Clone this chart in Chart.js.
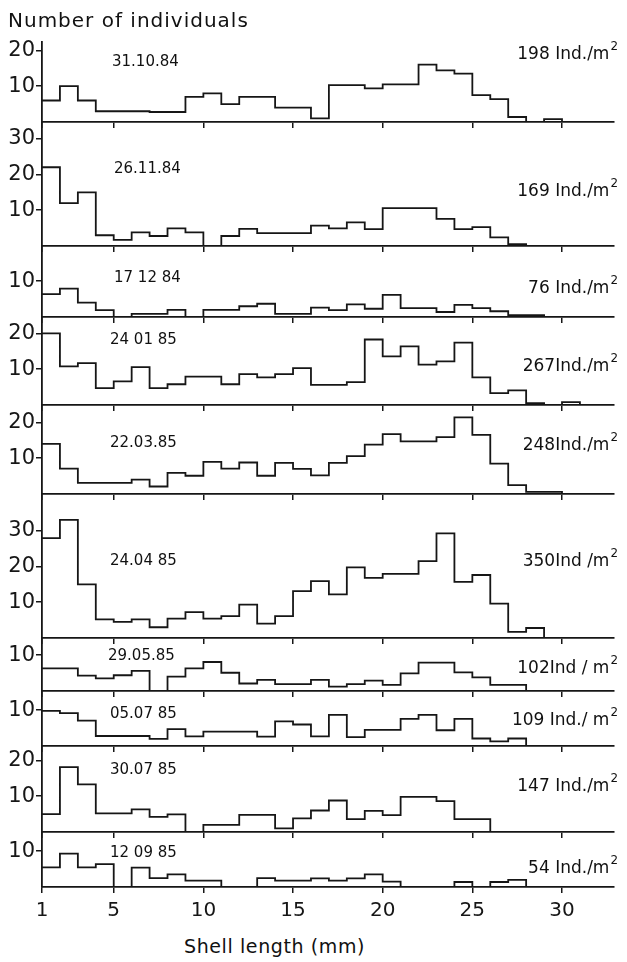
<!DOCTYPE html>
<html>
<head>
<meta charset="utf-8">
<script src="https://cdn.jsdelivr.net/npm/chart.js@4.4.1/dist/chart.umd.min.js"></script>
<style>
  body { margin: 0; background: #fff; }
  #wrap { position: relative; width: 627px; height: 962px; overflow: hidden; font-family: "DejaVu Sans", sans-serif; color: #111; }
  canvas { position: absolute; left: 0; }
  .lbl { position: absolute; white-space: nowrap; line-height: 1; transform: translateY(-50%); }
  .lbl sup { font-size: 0.7em; position: relative; top: -0.35em; vertical-align: top; margin-left: 1px; }
</style>
</head>
<body>
<div id="wrap"></div>
<script>
// bin lower edges, shell length in mm (1 mm classes)
const binEdges = [1, 2, 3, 4, 5, 6, 7, 8, 9, 10, 11, 12, 13, 14, 15, 16, 17, 18, 19, 20, 21, 22, 23, 24, 25, 26, 27, 28, 29, 30, 31, 32, 33];

// number of individuals per 1 mm class, one array per sampling date
const oct84 = [6, 10, 6, 3, 3, 3, 2.8, 2.8, 7, 8, 5, 7, 7, 4, 4, 1, 10.3, 10.3, 9.4, 10.5, 10.5, 16, 14.4, 13.5, 7.5, 6.4, 1.4, 0, 0.8, 0, 0, 0];
const nov84 = [22, 12, 15, 3, 1.7, 3.8, 2.8, 4.9, 3.8, 0, 2.8, 4.8, 3.6, 3.6, 3.6, 5.7, 4.9, 6.6, 4.7, 10.6, 10.6, 10.6, 7.6, 4.7, 5.3, 2.4, 0.5, 0, 0, 0, 0, 0];
const dec84 = [6.4, 7.9, 4, 1.9, 0, 0.9, 0.9, 2, 0, 2, 2, 3, 3.7, 0.9, 0.9, 2.6, 1.9, 3.5, 2.3, 6.2, 2.5, 2.5, 1.4, 3.4, 2.5, 1.6, 0.5, 0.5, 0, 0, 0, 0];
const jan85 = [20, 10.8, 11.7, 4.7, 6.6, 10.6, 4.7, 5.8, 7.9, 7.9, 5.8, 8.6, 7.7, 8.6, 10.3, 5.6, 5.6, 6.4, 18.3, 13.6, 16.4, 11.3, 12.2, 17.4, 7.7, 3.3, 4.1, 0.5, 0, 0.8, 0, 0];
const mar85 = [14, 7.1, 3.1, 3.1, 3.1, 4, 2.1, 5.9, 5.1, 9, 7.1, 8.8, 5.1, 8.7, 7, 5.2, 8.7, 10.6, 13.8, 16.7, 14.7, 14.7, 15.9, 21.4, 16.5, 8.5, 2.5, 0.6, 0.6, 0, 0, 0];
const apr85 = [27.9, 33, 15, 5.2, 4.5, 5.2, 3, 5.4, 7.2, 5.4, 6.1, 9.3, 4, 6.1, 13.1, 15.9, 12.2, 19.7, 16.8, 17.9, 17.9, 21.5, 29.2, 15.7, 17.6, 9.6, 1.7, 2.8, 0, 0, 0, 0];
const may85 = [6.3, 6.3, 4.3, 3.5, 4.4, 5.6, 0, 4, 6.3, 8.1, 5.1, 2.1, 3.1, 1.9, 1.9, 3.1, 1.2, 1.9, 2.9, 1.7, 4.9, 7.9, 7.9, 5.2, 3.8, 1.7, 1.7, 0, 0, 0, 0, 0];
const jul85a = [9.8, 9.2, 7.1, 2.8, 2.8, 2.8, 2, 4.7, 2.7, 4, 4, 4, 2.6, 6.9, 6, 2.7, 8.7, 2.5, 4.5, 4.5, 7.6, 8.7, 4.4, 7.6, 2.1, 1.3, 2.1, 0, 0, 0, 0, 0];
const jul85b = [5, 18.1, 13.3, 5.2, 5.2, 6.3, 4.2, 4.9, 0, 2, 2, 4.8, 4.8, 1, 3.8, 6, 8.8, 3.6, 5.9, 4.7, 9.8, 9.8, 8.6, 3.6, 3.6, 0, 0, 0, 0, 0, 0, 0];
const sep85 = [5.5, 9.3, 5.5, 6.4, 0, 5.4, 2.5, 3.5, 1.8, 1.8, 0, 0, 2.5, 1.8, 1.8, 2.4, 1.8, 2.4, 3.5, 1.5, 0, 0, 0, 1.4, 0, 1.4, 2, 0, 0, 0, 0, 0];

const samples = [oct84, nov84, dec84, jan85, mar85, apr85, may85, jul85a, jul85b, sep85];
const dates = ['31.10.84', '26.11.84', '17 12 84', '24 01 85', '22.03.85', '24.04 85', '29.05.85', '05.07 85', '30.07 85', '12 09 85'];
const densities = ['198 Ind./m', '169 Ind./m', '76 Ind./m', '267Ind./m', '248Ind./m', '350Ind /m', '102Ind / m', '109 Ind./ m', '147 Ind./m', '54 Ind./m'];
const yTickValues = [[10, 20], [10, 20, 30], [10], [10, 20], [10, 20], [10, 20, 30], [10], [10], [10, 20], [10]];
const xTickValues = [1, 5, 10, 15, 20, 25, 30];

// layout (pixels)
const panelTop = 42;
const panelBase = [122, 246, 317, 405, 494, 638, 691, 746, 832, 887];
const pxPerUnit = 3.58;
const datePos = [[112, 61], [114, 168], [114, 277], [110, 339], [110, 442], [110, 560], [108, 655], [110, 713], [110, 769], [110, 852]];
const densityY = [53, 190, 287, 365, 444, 560, 667, 719, 785, 867];

const wrap = document.getElementById('wrap');
const ink = '#161616';
const padTop = 16;

function addLabel(html, css) {
    const d = document.createElement('div');
    d.className = 'lbl';
    d.innerHTML = html;
    Object.assign(d.style, css);
    wrap.appendChild(d);
}

samples.forEach((vals, i) => {
    const last = i === samples.length - 1;
    const top = i === 0 ? panelTop : panelBase[i - 1];
    const base = panelBase[i];
    const xH = last ? 40 : 16;

    const canvas = document.createElement('canvas');
    canvas.width = 627;
    canvas.height = base - top + padTop + xH;
    canvas.style.top = (top - padTop) + 'px';
    wrap.appendChild(canvas);

    // one point per bin edge; the step holds each class value up to the next edge
    const points = binEdges.map((e, k) => ({ x: e, y: k < vals.length ? vals[k] : 0 }));

    new Chart(canvas, {
        type: 'line',
        data: {
            datasets: [{
                data: points,
                stepped: 'before',
                borderColor: ink,
                borderWidth: 1.8,
                pointRadius: 0,
                fill: false
            }]
        },
        options: {
            responsive: false,
            animation: false,
            layout: { padding: { top: padTop, left: 0, right: 13, bottom: 0 } },
            plugins: { legend: { display: false }, tooltip: { enabled: false } },
            scales: {
                x: {
                    type: 'linear',
                    min: 1,
                    max: 32.9,
                    afterFit: s => { s.height = xH; },
                    afterBuildTicks: s => { s.ticks = xTickValues.map(v => ({ value: v })); },
                    grid: { drawOnChartArea: false, tickLength: 6, color: ink, lineWidth: 1.5 },
                    border: { display: true, color: ink, width: 1.8 },
                    ticks: {
                        display: last,
                        padding: 6,
                        color: ink,
                        autoSkip: false,
                        maxRotation: 0,
                        font: { family: 'DejaVu Sans', size: 20 }
                    }
                },
                y: {
                    min: 0,
                    max: (base - top) / pxPerUnit,
                    afterFit: s => { s.width = 42; },
                    afterBuildTicks: s => { s.ticks = yTickValues[i].map(v => ({ value: v })); },
                    grid: { drawOnChartArea: false, tickLength: 6, color: ink, lineWidth: 1.5 },
                    border: { display: true, color: ink, width: 1.8 },
                    ticks: {
                        padding: 1,
                        color: ink,
                        font: { family: 'DejaVu Sans', size: 21 }
                    }
                }
            }
        }
    });

    addLabel(dates[i], { left: datePos[i][0] + 'px', top: datePos[i][1] + 'px', fontSize: '15px' });
    addLabel(densities[i] + '<sup>2</sup>', { right: '9px', top: densityY[i] + 'px', fontSize: '17px' });
});

addLabel('Number of individuals', { left: '8px', top: '20px', fontSize: '20px', letterSpacing: '1px' });
addLabel('Shell length (mm)', { left: '184px', top: '946px', fontSize: '19px', letterSpacing: '0.6px' });
</script>
</body>
</html>
